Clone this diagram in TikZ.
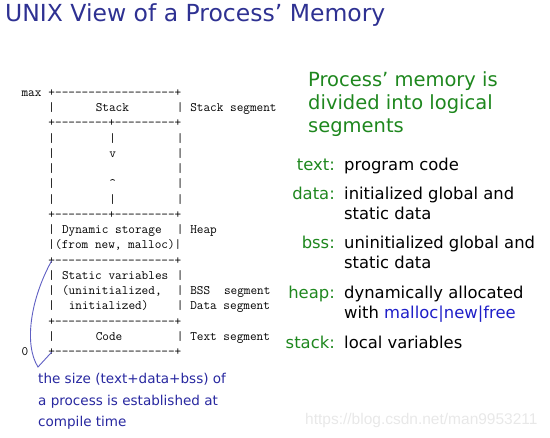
\documentclass[tikz,border=0pt]{standalone}
\usepackage{fontspec}
\setmainfont{DejaVu Sans}
\newfontfamily\wmfont{Liberation Sans}
\ExplSyntaxOn
\cs_new:Npn \mydashes #1 {\prg_replicate:nn{#1}{-\kern0pt}}
\ExplSyntaxOff
\definecolor{titleblue}{RGB}{46,49,146}
\definecolor{headgreen}{RGB}{30,135,30}
\definecolor{noteblue}{RGB}{40,40,160}
\definecolor{callblue}{RGB}{30,30,200}
\definecolor{curveblue}{RGB}{95,95,195}
\tikzset{
  tt/.style={font=\fontsize{12.9}{15}\ttfamily, inner sep=0pt, anchor=base west},
  lbl/.style={font=\fontsize{16.4}{20}\selectfont, text=headgreen, inner sep=0pt, anchor=base east},
  desc/.style={font=\fontsize{16.4}{20}\selectfont, inner sep=0pt, anchor=base west, align=left},
}
\newcommand\asc[3]{\node[tt] (a#2c#1) at ({48.3+6.75*(#1)},{96.5+15.24*(#2)}) {#3};}
\begin{document}
\begin{tikzpicture}[x=1pt,y=-1pt]
\path[use as bounding box] (0,0) rectangle (550,438);
% title
\node[font=\fontsize{23.5}{28}\selectfont, text=titleblue, inner sep=0pt, anchor=base west] (title) at (5,22) {UNIX View of a Process’ Memory};
% ascii memory map
\node[tt] (maxl) at ({48.3-27},{96.5}) {max};
\asc{0}{0}{+\mydashes{18}+}
\asc{0}{1}{|}\asc{7}{1}{Stack}\asc{19}{1}{|}\asc{21}{1}{Stack segment}
\asc{0}{2}{+\mydashes{8}+\mydashes{9}+}
\asc{0}{3}{|}\asc{9}{3}{|}\asc{19}{3}{|}
\asc{0}{4}{|}\asc{9}{4}{v}\asc{19}{4}{|}
\asc{0}{5}{|}\asc{19}{5}{|}
\asc{0}{6}{|}\asc{9}{6}{\textasciicircum}\asc{19}{6}{|}
\asc{0}{7}{|}\asc{9}{7}{|}\asc{19}{7}{|}
\asc{0}{8}{+\mydashes{8}+\mydashes{9}+}
\asc{0}{9}{|}\asc{2}{9}{Dynamic storage}\asc{19}{9}{|}\asc{21}{9}{Heap}
\asc{0}{10}{|(from new, malloc)|}
\asc{0}{11}{+\mydashes{18}+}
\asc{0}{12}{|}\asc{2}{12}{Static variables}\asc{19}{12}{|}
\asc{0}{13}{|}\asc{2}{13}{(uninitialized,}\asc{19}{13}{|}\asc{21}{13}{BSS}\asc{26}{13}{segment}
\asc{0}{14}{|}\asc{3}{14}{initialized)}\asc{19}{14}{|}\asc{21}{14}{Data segment}
\asc{0}{15}{+\mydashes{18}+}
\asc{0}{16}{|}\asc{7}{16}{Code}\asc{19}{16}{|}\asc{21}{16}{Text segment}
\node[tt] (zerol) at ({48.3-27},{96.5+15.24*17}) {0};
\asc{0}{17}{+\mydashes{18}+}
% brace-like curve
\coordinate (cA) at (51.7,{93+15.24*11});
\coordinate (cB) at (38,367);
\coordinate (cC) at (51.7,{93+15.24*17});
\draw[curveblue, line width=0.9pt] (cA) .. controls (30,300) and (24,345) .. (cB) -- (cC);
% note (base = last line)
\node[font=\fontsize{13.55}{21.5}\selectfont, text=noteblue, inner sep=0pt, anchor=base west, align=left] (note) at (38,427) {the size (text+data+bss) of\\a process is established at\\compile time};
% heading (base = last line)
\node[font=\fontsize{19.5}{23}\selectfont, text=headgreen, inner sep=0pt, anchor=base west, align=left] (head) at (308,133) {Process’ memory is\\divided into logical\\segments};
% definitions
\node[lbl] (ltext) at (335,171) {text:};
\node[desc] (dtext) at (344,171) {program code};
\node[lbl] (ldata) at (335,200) {data:};
\node[desc] (ddata) at (344,220) {initialized global and\\static data};
\node[lbl] (lbss) at (335,249) {bss:};
\node[desc] (dbss) at (344,269) {uninitialized global and\\static data};
\node[lbl] (lheap) at (335,299) {heap:};
\node[desc] (dheap) at (344,319) {dynamically allocated\\with \textcolor{callblue}{malloc|new|free}};
\node[lbl] (lstack) at (335,349) {stack:};
\node[desc] (dstack) at (344,349) {local variables};
% watermark
\node[font=\fontsize{15.5}{18}\wmfont, text=black!9, inner sep=0pt, anchor=base west] (wm) at (305,425) {https://blog.csdn.net/man9953211};
\end{tikzpicture}
\end{document}
